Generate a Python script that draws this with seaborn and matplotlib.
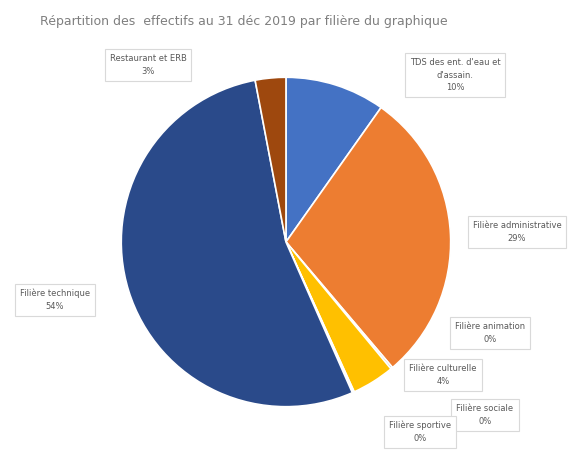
import matplotlib
matplotlib.use("Agg")
import matplotlib.pyplot as plt
import seaborn as sns

sns.set_theme(style="white")
plt.rcParams['font.family'] = ['DejaVu Sans']

title = "Répartition des  effectifs au 31 déc 2019 par filière du graphique"
categories = ["TDS des ent. d'eau et\nd'assain.", "Filière administrative", "Filière animation",
              "Filière culturelle", "Filière sociale", "Filière sportive",
              "Filière technique", "Restaurant et ERB"]
values = [9.8, 29.0, 0.2, 4.2, 0.1, 0.1, 53.6, 3.0]
colors = ["#4472C4", "#ED7D31", "#A5A5A5", "#FFC000", "#5B9BD5", "#70AD47", "#2A4A8A", "#9E480E"]

# label box centres in figure fraction (layout only)
label_pos = [(455/582, 1-75/450), (517/582, 1-232/450), (490/582, 1-333/450),
             (443/582, 1-375/450), (485/582, 1-415/450), (420/582, 1-432/450),
             (55/582, 1-300/450), (148/582, 1-65/450)]

fig = plt.figure(figsize=(5.82, 4.5), dpi=100)
ax = fig.add_axes([0.2027, 0.0889, 0.5773, 0.7467])
ax.pie(values, colors=colors, startangle=90, counterclock=False,
       wedgeprops=dict(edgecolor="white", linewidth=1.2))
ax.set_xlim(-1.02, 1.02)
ax.set_ylim(-1.02, 1.02)
ax.set_aspect("equal")

total = sum(values)
for cat, v, (x, y) in zip(categories, values, label_pos):
    pct = round(v / total * 100)
    fig.text(x, y, f"{cat}\n{pct}%", ha="center", va="center", fontsize=6,
             color="#595959", linespacing=1.5,
             bbox=dict(boxstyle="square,pad=0.6", fc="white", ec="#D9D9D9", lw=0.8))

fig.text(40/582, 1-22/450, title, ha="left", va="center", fontsize=9, color="#7F7F7F")
fig.savefig("out.png", dpi=100)
